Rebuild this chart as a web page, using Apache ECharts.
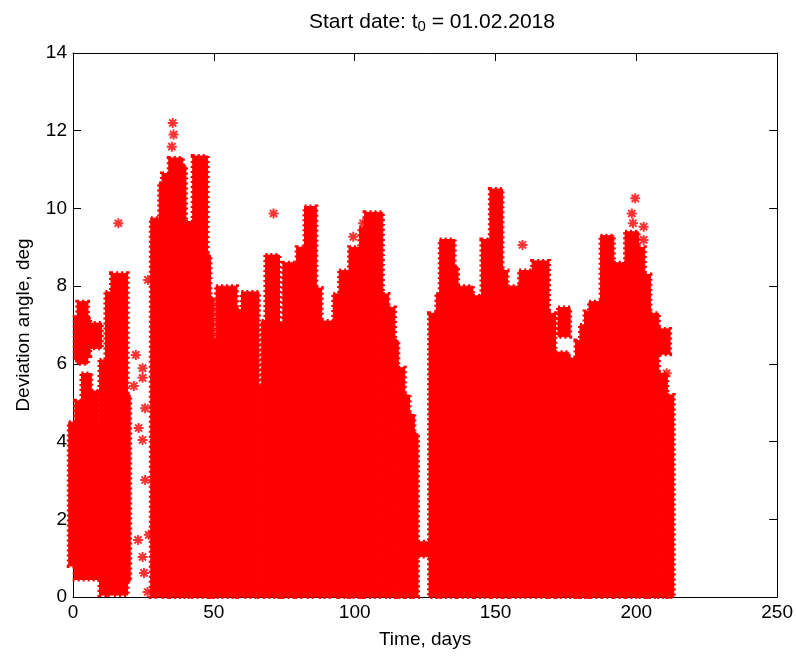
<!DOCTYPE html>
<html>
<head>
<meta charset="utf-8">
<script src="https://cdn.jsdelivr.net/npm/echarts@6/dist/echarts.min.js"></script>
<style>
  html, body { margin: 0; padding: 0; background: #fff; }
  #chart { width: 796px; height: 656px; }
</style>
</head>
<body>
<div id="chart"></div>
<script>
// dense runs of samples: [day from, day to, min angle, max angle]
const bands = [
  [-1.5, 0.6, 0.8, 4.5],
  [0.6, 9.4, 0.45, 4.45],
  [0.7, 3.0, 4.3, 5.05],
  [3.0, 6.5, 4.3, 5.75],
  [6.5, 9.0, 4.3, 5.3],
  [0.6, 1.5, 6.1, 7.2],
  [1.5, 5.3, 6.0, 7.6],
  [5.3, 6.1, 6.2, 7.2],
  [5.6, 10.2, 6.4, 7.05],
  [9.4, 11.5, 0.05, 6.1],
  [11.5, 13.5, 0.05, 7.85],
  [13.5, 19.4, 0.05, 8.33],
  [19.4, 20.3, 0.4, 5.2],
  [27.6, 30.6, 0, 9.75],
  [30.6, 31.6, 0, 10.65],
  [31.6, 34.0, 0, 10.9],
  [34.0, 39.0, 0, 11.3],
  [39.0, 40.1, 0, 11.1],
  [40.1, 42.5, 0, 9.66],
  [42.5, 47.8, 0, 11.35],
  [47.8, 48.8, 0, 8.8],
  [48.8, 50.0, 0, 7.7],
  [50.0, 50.8, 0, 6.6],
  [50.8, 58.2, 0, 8.0],
  [58.2, 59.8, 0, 7.4],
  [59.8, 66.0, 0, 7.85],
  [66.0, 67.0, 0, 5.4],
  [67.0, 68.3, 0, 7.1],
  [68.3, 73.3, 0, 8.8],
  [73.3, 74.5, 0, 7.05],
  [74.5, 79.4, 0, 8.6],
  [79.4, 82.2, 0, 9.0],
  [82.2, 86.4, 0, 10.05],
  [86.4, 88.3, 0, 7.95],
  [88.3, 92.4, 0, 7.1],
  [92.4, 94.5, 0, 7.8],
  [94.5, 98.0, 0, 8.4],
  [98.0, 101.7, 0, 9.0],
  [101.7, 103.5, 0, 9.5],
  [103.5, 110.0, 0, 9.9],
  [110.0, 112.0, 0, 7.8],
  [112.0, 114.3, 0, 7.45],
  [114.3, 115.5, 0, 6.6],
  [115.5, 117.8, 0, 5.9],
  [117.8, 119.5, 0, 5.2],
  [119.5, 121.2, 0, 4.7],
  [121.2, 122.5, 0, 4.2],
  [122.5, 126.4, 1.04, 1.42],
  [126.4, 129.0, 0, 7.3],
  [129.0, 130.2, 0, 7.8],
  [130.2, 135.5, 0, 9.2],
  [135.5, 136.7, 0, 8.5],
  [136.7, 142.0, 0, 8.0],
  [142.0, 145.0, 0, 7.75],
  [145.0, 148.0, 0, 9.2],
  [148.0, 152.5, 0, 10.5],
  [152.5, 154.3, 0, 8.4],
  [154.3, 158.4, 0, 8.0],
  [158.4, 163.0, 0, 8.4],
  [163.0, 169.0, 0, 8.65],
  [169.0, 171.3, 0, 7.3],
  [171.3, 176.0, 0, 6.3],
  [172.2, 176.5, 6.7, 7.45],
  [176.0, 178.4, 0, 6.15],
  [178.4, 180.0, 0, 6.6],
  [180.0, 181.6, 0, 7.0],
  [181.6, 183.2, 0, 7.35],
  [183.2, 187.3, 0, 7.6],
  [187.3, 192.0, 0, 9.3],
  [192.0, 196.0, 0, 8.6],
  [196.0, 200.8, 0, 9.4],
  [200.8, 203.0, 0, 9.0],
  [203.0, 205.0, 0, 8.3],
  [205.0, 208.0, 0, 7.3],
  [208.0, 211.0, 0, 5.75],
  [208.0, 212.0, 6.25, 6.9],
  [211.0, 213.3, 0, 5.2]
];

// isolated samples: [day, angle]
const outliers = [
  [16.1, 9.62], [26.6, 8.16], [22.3, 6.23], [24.7, 5.89], [24.7, 5.64],
  [21.6, 5.43], [25.6, 4.86], [23.3, 4.35], [24.7, 4.04], [25.6, 3.01],
  [23.1, 1.47], [26.9, 1.6], [24.7, 1.03], [25.2, 0.62], [26.5, 0.13],
  [35.4, 12.2], [35.7, 11.9], [35.1, 11.59], [71.2, 9.87], [99.5, 9.27],
  [103.0, 9.62], [159.6, 9.06], [174.3, 7.3], [198.4, 9.87], [199.6, 10.26],
  [198.8, 9.62], [202.6, 9.53], [202.6, 9.19], [210.3, 6.66], [210.8, 5.76]
];

const font = 'Liberation Sans, Arial, sans-serif';
const red = '#ff0000';
const star = 'path://M0,-5L0,5M-5,0L5,0M-3.6,-3.6L3.6,3.6M-3.6,3.6L3.6,-3.6';

const chart = echarts.init(document.getElementById('chart'));

const tick = { show: true, inside: true, length: 8, lineStyle: { color: '#000' } };
const line = { show: true, onZero: false, lineStyle: { color: '#000', width: 1 } };
const xBase = { type: 'value', min: 0, max: 250, interval: 50,
  axisLine: line, axisTick: tick, splitLine: { show: false } };
const yBase = { type: 'value', min: 0, max: 14, interval: 2,
  axisLine: line, axisTick: tick, splitLine: { show: false } };
const labelStyle = { fontFamily: font, fontSize: 19, color: '#000' };

chart.setOption({
  animation: false,
  title: {
    text: 'Start date: t{s|0} = 01.02.2018',
    left: 427, top: 5, textAlign: 'center',
    textStyle: { fontFamily: font, fontSize: 21, fontWeight: 'normal', color: '#000',
      rich: { s: { fontFamily: font, fontSize: 15, color: '#000', padding: [9, 0, 0, 0] } } }
  },
  grid: { left: 73, right: 15, top: 53, bottom: 59 },
  xAxis: [
    Object.assign({}, xBase, { position: 'bottom',
      name: 'Time, days', nameLocation: 'middle', nameGap: 33,
      nameTextStyle: labelStyle,
      axisLabel: Object.assign({ margin: 6 }, labelStyle) }),
    Object.assign({}, xBase, { position: 'top', axisLabel: { show: false } })
  ],
  yAxis: [
    Object.assign({}, yBase, { position: 'left',
      name: 'Deviation angle, deg', nameLocation: 'middle', nameGap: 40,
      nameTextStyle: labelStyle,
      axisLabel: Object.assign({ margin: 6 }, labelStyle) }),
    Object.assign({}, yBase, { position: 'right', axisLabel: { show: false } })
  ],
  series: [
    {
      type: 'custom',
      data: bands,
      encode: { x: [0, 1], y: [2, 3] },
      renderItem: function (params, api) {
        const a = api.coord([api.value(0), api.value(3)]);
        const b = api.coord([api.value(1), api.value(2)]);
        const shape = { x: a[0], y: a[1], width: b[0] - a[0], height: b[1] - a[1] };
        return {
          type: 'group',
          children: [
            { type: 'rect', shape: shape,
              style: { fill: red, stroke: red, lineWidth: 1 } },
            // ragged rim, like the arms of the star markers
            { type: 'rect', shape: shape,
              style: { fill: null, stroke: red, lineWidth: 4, lineDash: [2, 3] } }
          ]
        };
      },
      z: 1
    },
    {
      type: 'scatter',
      data: outliers,
      symbol: star,
      symbolSize: 10,
      itemStyle: { color: 'rgba(0,0,0,0)', borderColor: red, borderWidth: 2 },
      z: 2
    }
  ]
});
</script>
</body>
</html>
